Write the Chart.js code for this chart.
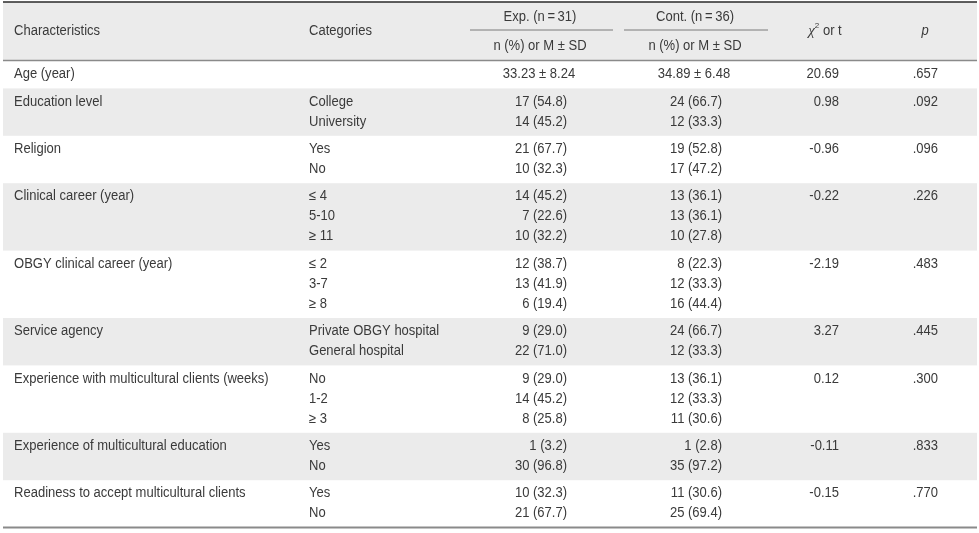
<!DOCTYPE html>
<html>
<head>
<meta charset="utf-8">
<script src="https://cdn.jsdelivr.net/npm/chart.js@4.4.1/dist/chart.umd.min.js"></script>
<style>
  html, body { margin: 0; padding: 0; background: #fff; }
  #wrap { width: 979px; height: 533px; }
</style>
</head>
<body>
<div id="wrap"><canvas id="table-chart" width="979" height="533"></canvas></div>
<script>
const characteristics = [
  'Age (year)',
  'Education level',
  'Religion',
  'Clinical career (year)',
  'OBGY clinical career (year)',
  'Service agency',
  'Experience with multicultural clients (weeks)',
  'Experience of multicultural education',
  'Readiness to accept multicultural clients'
];
const categories = [
  [],
  ['College', 'University'],
  ['Yes', 'No'],
  ['≤ 4', '5-10', '≥ 11'],
  ['≤ 2', '3-7', '≥ 8'],
  ['Private OBGY hospital', 'General hospital'],
  ['No', '1-2', '≥ 3'],
  ['Yes', 'No'],
  ['Yes', 'No']
];
const expValues = [
  ['33.23 ± 8.24'],
  ['17 (54.8)', '14 (45.2)'],
  ['21 (67.7)', '10 (32.3)'],
  ['14 (45.2)', '7 (22.6)', '10 (32.2)'],
  ['12 (38.7)', '13 (41.9)', '6 (19.4)'],
  ['9 (29.0)', '22 (71.0)'],
  ['9 (29.0)', '14 (45.2)', '8 (25.8)'],
  ['1 (3.2)', '30 (96.8)'],
  ['10 (32.3)', '21 (67.7)']
];
const contValues = [
  ['34.89 ± 6.48'],
  ['24 (66.7)', '12 (33.3)'],
  ['19 (52.8)', '17 (47.2)'],
  ['13 (36.1)', '13 (36.1)', '10 (27.8)'],
  ['8 (22.3)', '12 (33.3)', '16 (44.4)'],
  ['24 (66.7)', '12 (33.3)'],
  ['13 (36.1)', '12 (33.3)', '11 (30.6)'],
  ['1 (2.8)', '35 (97.2)'],
  ['11 (30.6)', '25 (69.4)']
];
const statValues = ['20.69', '0.98', '-0.96', '-0.22', '-2.19', '3.27', '0.12', '-0.11', '-0.15'];
const pValues = ['.657', '.092', '.096', '.226', '.483', '.445', '.300', '.833', '.770'];
const groupHeaders = ['Exp. (n\u2009=\u200931)', 'Cont. (n\u2009=\u200936)'];
const subHeader = 'n (%) or M ± SD';

// y runs in text-line units: 0 is the top of the body, header above it
const PAD = 0.37;
const rowLines = characteristics.map((c, i) => Math.max(1, categories[i].length, expValues[i].length));
const rowTops = [];
let acc = 0;
rowLines.forEach(n => { rowTops.push(acc); acc += n + PAD; });
const bodyEnd = acc;

const FONT = '14px "Liberation Sans", Arial, sans-serif';
const TEXT = '#3a3a3a';
const SQUEEZE = 0.93; // the source face is narrower than Liberation Sans

const tablePlugin = {
  id: 'tableDraw',
  beforeDatasetsDraw(chart) {
    const { ctx, scales: { x, y } } = chart;
    const X = v => x.getPixelForValue(v);
    const Y = v => y.getPixelForValue(v);
    ctx.save();
    ctx.fillStyle = '#ebebeb';
    ctx.fillRect(X(3), Y(-2.95), X(977) - X(3), Y(0) - Y(-2.95));
    rowTops.forEach((t, i) => {
      if (i % 2 === 1) ctx.fillRect(X(3), Y(t), X(977) - X(3), Y(t + rowLines[i] + PAD) - Y(t));
    });

    const rule = (x0, x1, v, w, c) => {
      ctx.beginPath();
      ctx.lineWidth = w;
      ctx.strokeStyle = c;
      ctx.moveTo(X(x0), Y(v));
      ctx.lineTo(X(x1), Y(v));
      ctx.stroke();
    };
    rule(3, 977, -2.95, 1.5, '#2a2a2a');
    rule(3, 977, -0.02, 1.5, '#8a8a8a');
    rule(3, 977, bodyEnd, 2, '#8a8a8a');
    rule(470, 613, -1.55, 1, '#7a7a7a');
    rule(624, 768, -1.55, 1, '#7a7a7a');
    ctx.restore();
  },
  afterDatasetsDraw(chart) {
    const { ctx, scales: { x, y } } = chart;
    const X = v => x.getPixelForValue(v);
    const Y = v => y.getPixelForValue(v);
    ctx.save();
    ctx.font = FONT;
    ctx.fillStyle = TEXT;
    ctx.textBaseline = 'middle';
    const put = (s, xv, yv, align) => {
      ctx.save();
      ctx.translate(X(xv), Y(yv));
      ctx.scale(SQUEEZE, 1);
      ctx.textAlign = align;
      ctx.fillText(s, 0, 0);
      ctx.restore();
    };

    // header
    put('Characteristics', 14, -1.5, 'left');
    put('Categories', 309, -1.5, 'left');
    put(groupHeaders[0], 540, -2.2, 'center');
    put(groupHeaders[1], 695, -2.2, 'center');
    put(subHeader, 540, -0.75, 'center');
    put(subHeader, 695, -0.75, 'center');

    // chi-square header: italic chi, superscript 2, " or t"
    const chiFont = 'italic 15px "Liberation Serif", serif';
    const supFont = '8px "Liberation Sans", Arial, sans-serif';
    ctx.font = chiFont;
    const wChi = ctx.measureText('χ').width;
    ctx.font = supFont;
    const wSup = ctx.measureText('2').width;
    ctx.font = FONT;
    const wRest = ctx.measureText(' or t').width * SQUEEZE;
    let cx = X(825) - (wChi + wSup + wRest) / 2;
    ctx.textAlign = 'left';
    ctx.font = chiFont;
    ctx.fillText('χ', cx, Y(-1.5));
    cx += wChi;
    ctx.font = supFont;
    ctx.fillText('2', cx, Y(-1.5) - 5);
    cx += wSup;
    ctx.font = FONT;
    ctx.save();
    ctx.translate(cx, Y(-1.5));
    ctx.scale(SQUEEZE, 1);
    ctx.fillText(' or t', 0, 0);
    ctx.restore();

    ctx.font = 'italic 14px "Liberation Sans", Arial, sans-serif';
    put('p', 925, -1.5, 'center');
    ctx.font = FONT;

    // body
    rowTops.forEach((t, i) => {
      const first = t + 0.67;
      put(characteristics[i], 14, first, 'left');
      categories[i].forEach((s, k) => put(s, 309, first + k, 'left'));
      expValues[i].forEach((s, k) => {
        if (s.includes('±')) put(s, 539, first + k, 'center');
        else put(s, 567, first + k, 'right');
      });
      contValues[i].forEach((s, k) => {
        if (s.includes('±')) put(s, 694, first + k, 'center');
        else put(s, 722, first + k, 'right');
      });
      put(statValues[i], 839, first, 'right');
      put(pValues[i], 938, first, 'right');
    });
    ctx.restore();
  }
};

new Chart(document.getElementById('table-chart'), {
  type: 'scatter',
  data: { datasets: [] },
  options: {
    responsive: false,
    animation: false,
    layout: { padding: 0 },
    plugins: { legend: { display: false }, tooltip: { enabled: false } },
    scales: {
      x: { type: 'linear', min: 0, max: 979, display: false },
      y: { type: 'linear', min: -3.05, max: bodyEnd + 0.27, reverse: true, display: false }
    }
  },
  plugins: [tablePlugin]
});
</script>
</body>
</html>
